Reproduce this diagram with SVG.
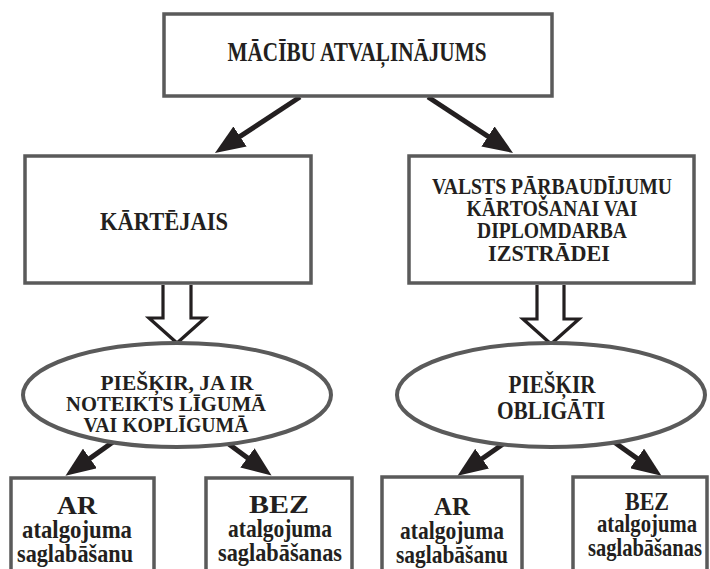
<svg xmlns="http://www.w3.org/2000/svg" width="710" height="569" viewBox="0 0 710 569">
<style>
.box{fill:#fff;stroke:#5a5a5a;stroke-width:3.5}
.ell{fill:#fff;stroke:#5a5a5a;stroke-width:4}
.t{font-family:"Liberation Serif","Times New Roman",serif;font-weight:bold;fill:#231f20;text-anchor:middle}
.a{stroke:#231f20;stroke-width:5;fill:none}
.h{fill:#fff;stroke:#231f20;stroke-width:3.2;stroke-linejoin:miter}
</style>
<defs>
<marker id="ah" markerUnits="userSpaceOnUse" viewBox="0 0 30 24" markerWidth="30" markerHeight="24" refX="15" refY="12" orient="auto">
<path d="M0,0 L30,12 L0,24 z" fill="#231f20"/>
</marker>
</defs>
<rect width="710" height="569" fill="#fff"/>
<g id="connectors">
<line class="a" x1="300" y1="97" x2="227.5" y2="144.7" marker-end="url(#ah)"/>
<line class="a" x1="428" y1="97" x2="500.5" y2="144.7" marker-end="url(#ah)"/>
<line class="a" x1="113" y1="442" x2="77.7" y2="467.1" marker-end="url(#ah)"/>
<line class="a" x1="226" y1="442" x2="259.5" y2="466.7" marker-end="url(#ah)"/>
<line class="a" x1="506" y1="442" x2="469.8" y2="467.2" marker-end="url(#ah)"/>
<line class="a" x1="614" y1="442" x2="649.3" y2="467.1" marker-end="url(#ah)"/>
<path class="h" d="M163,285 V318 H149 L177,343 L205,318 H191 V285"/>
<path class="h" d="M537,285 V319 H523 L551,344 L579,319 H564 V285"/>
</g>
<g id="n-top">
<rect class="box" x="164" y="14" width="388" height="82"/>
<text class="t" x="357" y="61" font-size="27" textLength="259" lengthAdjust="spacingAndGlyphs">MĀCĪBU ATVAĻINĀJUMS</text>
</g>
<g id="n-kartejais">
<rect class="box" x="25" y="156" width="286" height="127"/>
<text class="t" x="164" y="230" font-size="25" textLength="128" lengthAdjust="spacingAndGlyphs">KĀRTĒJAIS</text>
</g>
<g id="n-valsts">
<rect class="box" x="409" y="156" width="285" height="127"/>
<text class="t" x="552" y="194" font-size="23" textLength="240" lengthAdjust="spacingAndGlyphs">VALSTS PĀRBAUDĪJUMU</text>
<text class="t" x="552" y="216" font-size="23" textLength="171" lengthAdjust="spacingAndGlyphs">KĀRTOŠANAI VAI</text>
<text class="t" x="552" y="238" font-size="23" textLength="150" lengthAdjust="spacingAndGlyphs">DIPLOMDARBA</text>
<text class="t" x="549" y="261" font-size="23" textLength="122" lengthAdjust="spacingAndGlyphs">IZSTRĀDEI</text>
</g>
<g id="n-ell-left">
<ellipse class="ell" cx="177" cy="395" rx="154" ry="52"/>
<text class="t" x="177" y="390" font-size="22" textLength="153" lengthAdjust="spacingAndGlyphs">PIEŠĶIR, JA IR</text>
<text class="t" x="166" y="411" font-size="22" textLength="200" lengthAdjust="spacingAndGlyphs">NOTEIKTS LĪGUMĀ</text>
<text class="t" x="166" y="432" font-size="22" textLength="165" lengthAdjust="spacingAndGlyphs">VAI KOPLĪGUMĀ</text>
</g>
<g id="n-ell-right">
<ellipse class="ell" cx="551" cy="395" rx="154" ry="52"/>
<text class="t" x="552" y="393" font-size="26" textLength="87" lengthAdjust="spacingAndGlyphs">PIEŠĶIR</text>
<text class="t" x="551" y="419" font-size="26" textLength="108" lengthAdjust="spacingAndGlyphs">OBLIGĀTI</text>
</g>
<g id="n-ar1">
<rect class="box" x="11" y="478" width="143" height="120"/>
<text class="t" x="77" y="514" font-size="25" textLength="40" lengthAdjust="spacingAndGlyphs">AR</text>
<text class="t" x="77" y="538" font-size="25" textLength="110" lengthAdjust="spacingAndGlyphs">atalgojuma</text>
<text class="t" x="75" y="562" font-size="25" textLength="116" lengthAdjust="spacingAndGlyphs">saglabāšanu</text>
</g>
<g id="n-bez1">
<rect class="box" x="206" y="478" width="146" height="120"/>
<text class="t" x="279" y="513" font-size="25" textLength="60" lengthAdjust="spacingAndGlyphs">BEZ</text>
<text class="t" x="280" y="537" font-size="25" textLength="104" lengthAdjust="spacingAndGlyphs">atalgojuma</text>
<text class="t" x="280" y="561" font-size="25" textLength="124" lengthAdjust="spacingAndGlyphs">saglabāšanas</text>
</g>
<g id="n-ar2">
<rect class="box" x="382" y="477" width="140" height="120"/>
<text class="t" x="452" y="515" font-size="25" textLength="36" lengthAdjust="spacingAndGlyphs">AR</text>
<text class="t" x="452" y="539" font-size="25" textLength="104" lengthAdjust="spacingAndGlyphs">atalgojuma</text>
<text class="t" x="452" y="563" font-size="25" textLength="112" lengthAdjust="spacingAndGlyphs">saglabāšanu</text>
</g>
<g id="n-bez2">
<rect class="box" x="573" y="477" width="134" height="120"/>
<text class="t" x="647" y="510" font-size="25" textLength="44" lengthAdjust="spacingAndGlyphs">BEZ</text>
<text class="t" x="647" y="532" font-size="25" textLength="100" lengthAdjust="spacingAndGlyphs">atalgojuma</text>
<text class="t" x="645" y="556" font-size="25" textLength="114" lengthAdjust="spacingAndGlyphs">saglabāšanas</text>
</g>
</svg>
